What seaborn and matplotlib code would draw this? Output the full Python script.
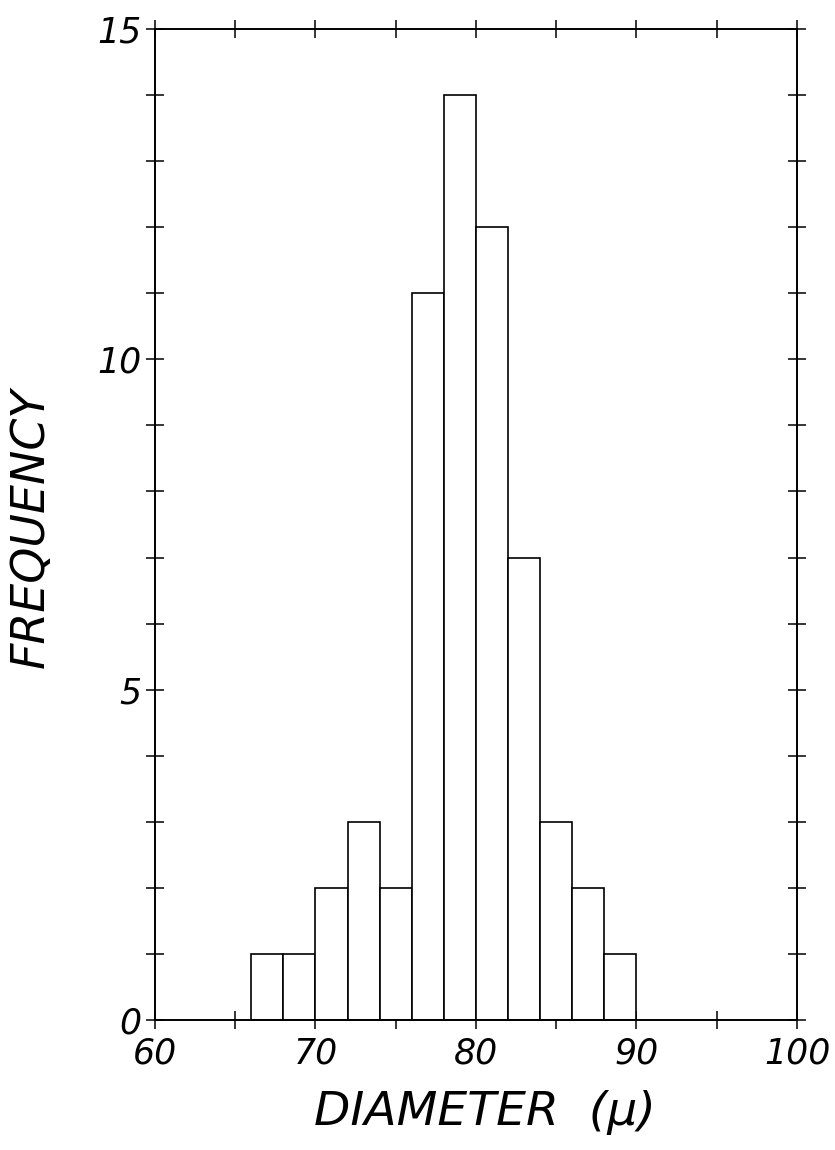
import numpy as np
import pandas as pd
import matplotlib
matplotlib.use("Agg")
import matplotlib.pyplot as plt
import seaborn as sns

# Diameter classes (lower bin edge, microns) and their frequencies
bin_left = [66, 68, 70, 72, 74, 76, 78, 80, 82, 84, 86, 88]
frequency = [1, 1, 2, 3, 2, 11, 14, 12, 7, 3, 2, 1]
bin_width = 2

x_ticks = [60, 70, 80, 90, 100]
x_tick_labels = ["60", "70", "80", "90", "100"]
y_ticks = [0, 5, 10, 15]
y_tick_labels = ["0", "5", "10", "15"]

sns.set_theme(style="ticks")
plt.rcParams["font.family"] = ["DejaVu Sans"]
plt.rcParams["font.style"] = "italic"
plt.rcParams["text.color"] = "black"
plt.rcParams["axes.labelcolor"] = "black"
plt.rcParams["xtick.color"] = "black"
plt.rcParams["ytick.color"] = "black"

df = pd.DataFrame({"diameter": np.array(bin_left, dtype=float) + bin_width / 2,
                   "count": np.array(frequency, dtype=float)})

fig = plt.figure(figsize=(8.35, 11.5), dpi=100)
ax = fig.add_axes([0.1856, 0.1130, 0.9545 - 0.1856, 0.9748 - 0.1130])

sns.histplot(data=df, x="diameter", weights="count", binwidth=bin_width,
             binrange=(bin_left[0], bin_left[-1] + bin_width),
             color="white", edgecolor="black", linewidth=1.2, alpha=1.0,
             ax=ax)

ax.set_xlim(60, 100)
ax.set_ylim(0, 15)

ax.set_xticks(x_ticks)
ax.set_xticklabels(x_tick_labels, fontsize=25, fontstyle="italic", color="black")
ax.set_xticks(np.arange(60, 101, 5), minor=True)
ax.set_yticks(y_ticks)
ax.set_yticklabels(y_tick_labels, fontsize=25, fontstyle="italic", color="black")
ax.set_yticks(np.arange(0, 16, 1), minor=True)

for which in ("major", "minor"):
    ax.tick_params(axis="both", which=which, direction="inout", length=13,
                   width=1.1, color="black", top=True, right=True,
                   labeltop=False, labelright=False)
ax.tick_params(axis="x", which="major", pad=5)
ax.tick_params(axis="y", which="major", pad=3)

for side in ("left", "right", "top", "bottom"):
    ax.spines[side].set_visible(True)
    ax.spines[side].set_linewidth(1.4)
    ax.spines[side].set_color("black")

ax.set_xlabel("DIAMETER  (μ)", fontsize=34, fontstyle="italic", color="black")
ax.set_ylabel("FREQUENCY", fontsize=33, fontstyle="italic", color="black")
ax.xaxis.set_label_coords(0.514, -0.071)
ax.yaxis.set_label_coords(-0.158, 0.497)

fig.savefig("out.png", dpi=100, facecolor="white")
